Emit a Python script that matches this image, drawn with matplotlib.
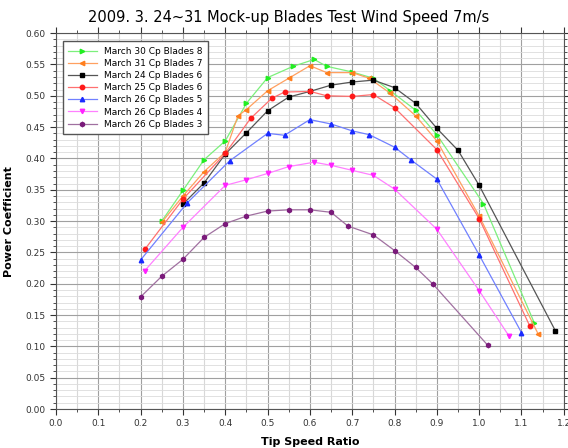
import matplotlib.pyplot as plt
from matplotlib.ticker import MultipleLocator

# data
labels = ['March 30 Cp Blades 8', 'March 31 Cp Blades 7', 'March 24 Cp Blades 6',
          'March 25 Cp Blades 6', 'March 26 Cp Blades 5', 'March 26 Cp Blades 4',
          'March 26 Cp Blades 3']

tsr_b8 = [0.25, 0.30, 0.35, 0.40, 0.45, 0.50, 0.56, 0.61, 0.64, 0.70, 0.75, 0.79, 0.85, 0.90, 1.01, 1.13]
cp_b8 = [0.300, 0.349, 0.398, 0.428, 0.488, 0.529, 0.547, 0.558, 0.547, 0.538, 0.528, 0.508, 0.477, 0.438, 0.328, 0.138]

tsr_b7 = [0.25, 0.30, 0.35, 0.40, 0.43, 0.45, 0.50, 0.55, 0.60, 0.64, 0.70, 0.74, 0.79, 0.85, 0.90, 1.00, 1.14]
cp_b7 = [0.298, 0.340, 0.379, 0.410, 0.468, 0.478, 0.508, 0.528, 0.548, 0.537, 0.537, 0.528, 0.504, 0.468, 0.428, 0.308, 0.119]

tsr_b6a = [0.30, 0.35, 0.40, 0.45, 0.50, 0.55, 0.60, 0.65, 0.70, 0.75, 0.80, 0.85, 0.90, 0.95, 1.00, 1.18]
cp_b6a = [0.327, 0.361, 0.407, 0.441, 0.476, 0.498, 0.507, 0.517, 0.522, 0.525, 0.513, 0.488, 0.448, 0.413, 0.357, 0.125]

tsr_b6b = [0.21, 0.30, 0.40, 0.46, 0.51, 0.54, 0.60, 0.64, 0.70, 0.75, 0.80, 0.90, 1.00, 1.12]
cp_b6b = [0.255, 0.335, 0.408, 0.464, 0.496, 0.506, 0.507, 0.500, 0.499, 0.502, 0.481, 0.414, 0.304, 0.132]

tsr_b5 = [0.20, 0.31, 0.41, 0.50, 0.54, 0.60, 0.65, 0.70, 0.74, 0.80, 0.84, 0.90, 1.00, 1.10]
cp_b5 = [0.238, 0.329, 0.396, 0.440, 0.437, 0.462, 0.455, 0.444, 0.438, 0.418, 0.397, 0.367, 0.246, 0.122]

tsr_b4 = [0.21, 0.30, 0.40, 0.45, 0.50, 0.55, 0.61, 0.65, 0.70, 0.75, 0.80, 0.90, 1.00, 1.07]
cp_b4 = [0.221, 0.290, 0.357, 0.366, 0.376, 0.387, 0.394, 0.389, 0.381, 0.373, 0.351, 0.287, 0.189, 0.117]

tsr_b3 = [0.20, 0.25, 0.30, 0.35, 0.40, 0.45, 0.50, 0.55, 0.60, 0.65, 0.69, 0.75, 0.80, 0.85, 0.89, 1.02]
cp_b3 = [0.179, 0.212, 0.239, 0.274, 0.296, 0.308, 0.316, 0.318, 0.318, 0.314, 0.292, 0.278, 0.253, 0.226, 0.200, 0.102]

xs = [tsr_b8, tsr_b7, tsr_b6a, tsr_b6b, tsr_b5, tsr_b4, tsr_b3]
ys = [cp_b8, cp_b7, cp_b6a, cp_b6b, cp_b5, cp_b4, cp_b3]
markers = ['>', '<', 's', 'o', '^', 'v', 'h']
colors = ['#22ee22', '#ff7f1e', '#000000', '#ff1a1a', '#1a2aff', '#ff22ff', '#7a1a7a']
line_colors = ['#7cf07c', '#ffa060', '#555555', '#ff7070', '#7080ff', '#ff80ff', '#a070a0']

fig = plt.figure(figsize=(5.68, 4.48), dpi=100)
ax = fig.add_axes([0.0986, 0.087, 0.894, 0.839])

for x, y, lab, m, c, lc in zip(xs, ys, labels, markers, colors, line_colors):
    ax.plot(x, y, color=lc, lw=0.9, marker=m, markersize=3.2,
            markerfacecolor=c, markeredgecolor=c, label=lab, zorder=3)

ax.set_xlim(0, 1.2)
ax.set_ylim(0, 0.6)
ax.xaxis.set_major_locator(MultipleLocator(0.1))
ax.xaxis.set_minor_locator(MultipleLocator(0.05))
ax.yaxis.set_major_locator(MultipleLocator(0.05))
ax.yaxis.set_minor_locator(MultipleLocator(0.01))
ax.xaxis.set_major_formatter(plt.FormatStrFormatter('%.1f'))
ax.yaxis.set_major_formatter(plt.FormatStrFormatter('%.2f'))

ax.grid(which='major', axis='x', color='#a0a0a0', lw=0.8)
ax.grid(which='minor', axis='x', color='#d8d8d8', lw=0.8)
ax.grid(which='major', axis='y', color='#a0a0a0', lw=0.8)
ax.grid(which='minor', axis='y', color='#dcdcdc', lw=0.6)
ax.set_axisbelow(True)

ax.tick_params(which='both', labelsize=6.5, colors='#333333', top=True, right=True)
ax.tick_params(which='major', length=4)
ax.tick_params(which='minor', length=2)
for s in ax.spines.values():
    s.set_color('#555555')

fig.suptitle('2009. 3. 24~31 Mock-up Blades Test Wind Speed 7m/s', fontsize=10.5,
             x=0.509, y=0.962, va='center')
ax.set_xlabel('Tip Speed Ratio', fontsize=8, fontweight='bold', labelpad=6)
ax.set_ylabel('Power Coefficient', fontsize=8, fontweight='bold', labelpad=8)

leg = ax.legend(loc='upper left', fontsize=6.5, fancybox=False, framealpha=1,
                edgecolor='#555555', borderpad=0.6, labelspacing=0.35,
                handlelength=3.2, bbox_to_anchor=(0.004, 0.99))
leg.get_frame().set_linewidth(1.0)

fig.savefig('out.png', dpi=100)
